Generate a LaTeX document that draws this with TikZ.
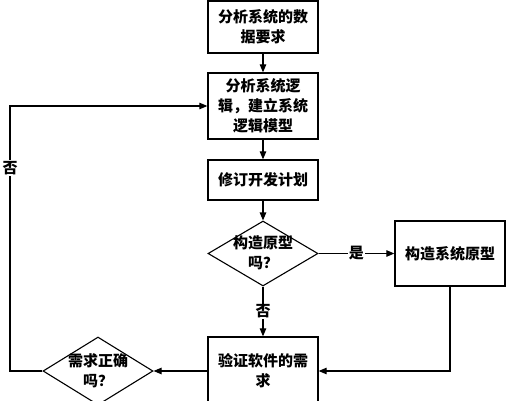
\documentclass[tikz,border=0pt]{standalone}
\usepackage{fontspec}
\newfontfamily\cjk{Noto Sans CJK SC}
\usetikzlibrary{shapes.geometric,arrows.meta}
\begin{document}
\begin{tikzpicture}[x=1pt,y=-1pt,
  box/.style={draw,line width=1.3pt,minimum width=110pt,inner sep=0pt,align=center,font=\cjk\bfseries\fontsize{15}{20}\selectfont},
  dia/.style={draw,line width=1.1pt,diamond,minimum width=110pt,inner sep=0pt},
  txt/.style={align=center,inner sep=0pt,font=\cjk\bfseries\fontsize{15}{20}\selectfont},
  lab/.style={fill=white,inner sep=1pt,font=\cjk\bfseries\fontsize{15}{16}\selectfont},
  arr/.style={line width=1.1pt,-{Triangle[length=8pt,width=6.5pt]}},
  ln/.style={line width=1.1pt}]
\useasboundingbox (0,0) rectangle (506,400);
\clip (0,0) rectangle (506,400);
\node[box,minimum height=52pt] (b1) at (263,27) {分析系统的数\\据要求};
\node[box,minimum height=66pt] (b2) at (263,106) {分析系统逻\\辑，建立系统\\逻辑模型};
\node[box,minimum height=40pt] (b3) at (263,180) {修订开发计划};
\node[dia,minimum height=65pt] (d1) at (263,253.5) {};
\node[txt] (t1) at (263,253) {构造原型\\吗？};
\node[box,minimum height=65pt] (b4) at (450,253.5) {构造系统原型};
\node[box,minimum height=68pt] (b5) at (263,371) {验证软件的需\\求};
\node[dia,minimum height=68pt] (d2) at (98,371) {};
\node[txt] (t2) at (98,371) {需求正确\\吗？};
\coordinate (c1) at (10,371);
\draw[arr] (b1) -- (b2);
\draw[arr] (b2) -- (b3);
\draw[arr] (b3) -- (d1.north);
\draw[arr] (d1.east) -- node[lab] (l1) {是} (b4.west);
\draw[arr] (d1.south) -- node[lab] (l2) {否} (b5.north);
\draw[arr] (b4.south) |- (b5.east);
\draw[arr] (b5.west) -- (d2.east);
\draw[arr] (d2.west) -- (c1) |- node[lab,pos=0.383] (l3) {否} (b2.west);
\end{tikzpicture}
\end{document}
